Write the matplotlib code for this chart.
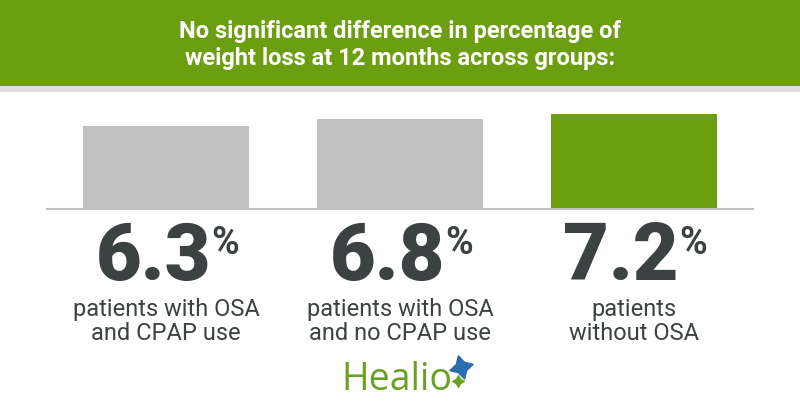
import matplotlib.pyplot as plt
from matplotlib.patches import Rectangle
from matplotlib.transforms import blended_transform_factory

# data
groups = ["patients with OSA\nand CPAP use",
          "patients with OSA\nand no CPAP use",
          "patients\nwithout OSA"]
values = [6.3, 6.8, 7.2]
value_labels = ["6.3", "6.8", "7.2"]
bar_colors = ["#c1c1c1", "#c1c1c1", "#6b9f10"]
title = "No significant difference in percentage of\nweight loss at 12 months across groups:"

W, H = 800, 420
green = "#6b9f10"
dark = "#3c4142"

fig = plt.figure(figsize=(W / 100, H / 100), dpi=100)

# overlay axes in pixel coordinates (y down) for header and logo
deco = fig.add_axes([0, 0, 1, 1])
deco.set_xlim(0, W)
deco.set_ylim(H, 0)
deco.axis("off")
deco.add_patch(Rectangle((0, 0), W, 86, color=green, lw=0))
deco.add_patch(Rectangle((0, 86), W, 6, color="#dedede", lw=0))

# baseline of the last title line at y=65px
fig.text(0.5, 1 - 65 / H, title, ha="center", va="baseline", color="white",
         fontsize=17, fontweight="bold", linespacing=1.2,
         family=["Liberation Sans Narrow", "Roboto", "DejaVu Sans"])

# bar axes: baseline at y=209px, line from x=47 to 753
ax = fig.add_axes([47 / W, (H - 209) / H, 706 / W, 105.4 / H])
x = list(range(len(values)))
ax.bar(x, values, width=0.711, color=bar_colors, zorder=2)
ax.set_xlim(-0.51, 2.51)
ax.set_ylim(0, 8)
for s in ["top", "left", "right"]:
    ax.spines[s].set_visible(False)
ax.spines["bottom"].set_color("#c0c0c0")
ax.spines["bottom"].set_linewidth(1.5)
ax.set_xticks([])
ax.set_yticks([])
ax.patch.set_alpha(0)

tr = blended_transform_factory(ax.transData, fig.transFigure)
for i, (v, lab) in enumerate(zip(value_labels, groups)):
    num = ax.text(i - 12.5 / 233.5, 1 - 280 / H, v, transform=tr, ha="center",
                  va="baseline", fontsize=57, fontweight="black", color=dark,
                  family="Roboto")
    ax.annotate("%", xy=(1.0, 0.93), xycoords=num, ha="left", va="top",
                fontsize=27, fontweight="bold", color=dark, family="Roboto")
    ax.text(i, 1 - 298 / H, lab, transform=tr, ha="center", va="top",
            fontsize=17, color=dark, family="Roboto", linespacing=1.05)

# Healio logo
deco.text(397, 390, "Healio", ha="center", va="baseline", fontsize=27,
          color="#6aa122", family="Open Sans")
deco.scatter([461], [367], marker=(4, 1, 15), s=300, color="#2b6cae", zorder=3)
deco.scatter([458], [381], marker=(4, 1, 0), s=70, color="#6aa122", zorder=2)

fig.savefig("out.png", dpi=100)
